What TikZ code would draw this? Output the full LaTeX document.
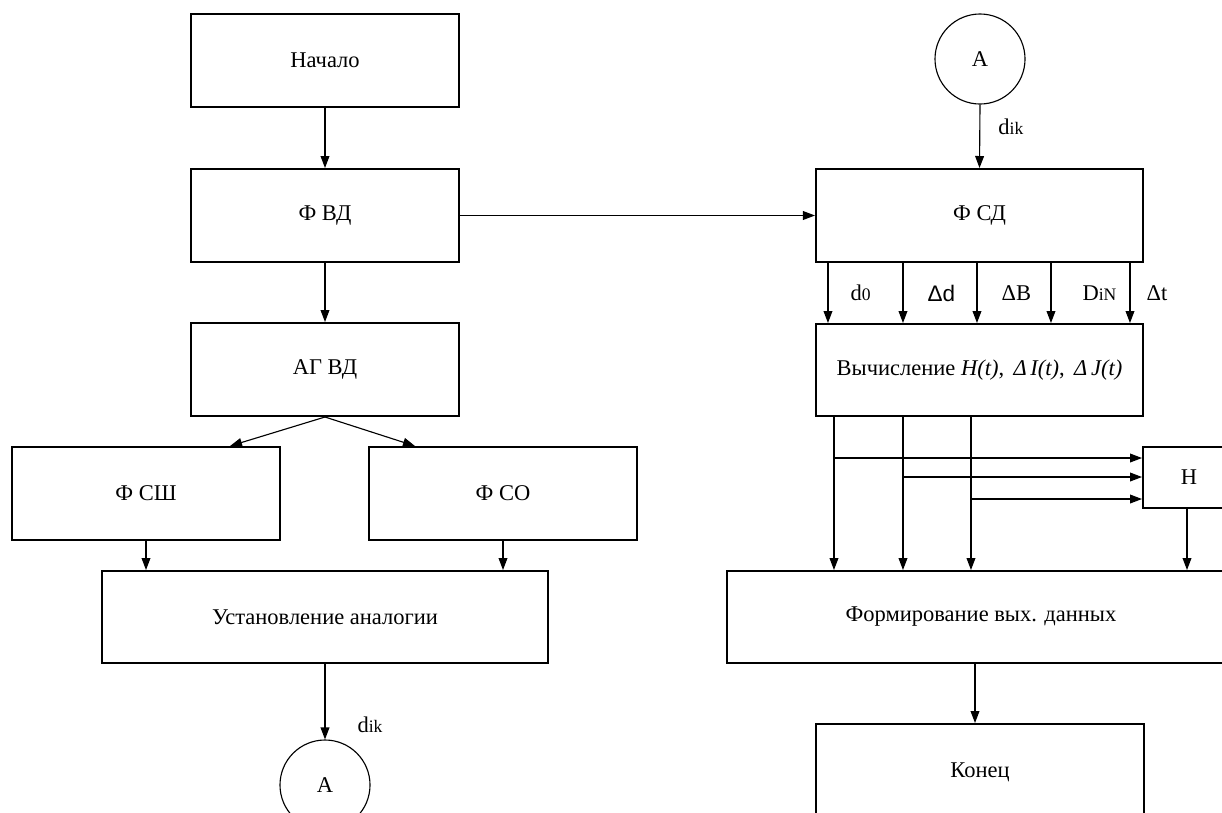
\documentclass[tikz,border=0pt]{standalone}
\usepackage{fontspec}
\setmainfont{Liberation Serif}
\newfontfamily\arialfont{Liberation Sans}
\usetikzlibrary{arrows.meta}
\newcommand{\mal}[1]{{\fontsize{12.5}{14}\selectfont #1}}

\begin{document}
\begin{tikzpicture}[x=0.025cm,y=-0.025cm,
	font=\fontsize{16}{19}\selectfont,
	box/.style={draw,line width=1.4pt,inner sep=0pt},
	krug/.style={draw,circle,line width=0.8pt,inner sep=0pt,minimum size=2.25cm},
	arr/.style={line width=0.8pt,-{Triangle[length=0.3cm,width=0.22cm]}},
	lab/.style={inner sep=0pt,anchor=west}]
	\useasboundingbox (0,0) rectangle (1222,812);
	\clip (0,0) rectangle (1222,812);
	% left column
	\node [box,minimum width=6.7cm,minimum height=2.325cm] (nach) at (325,60.5) {Начало};
	\node [box,minimum width=6.7cm,minimum height=2.325cm] (fvd) at (325,215.5) {Ф ВД};
	\node [box,minimum width=6.7cm,minimum height=2.325cm] (agvd) at (325,369.5) {АГ ВД};
	\node [box,minimum width=6.7cm,minimum height=2.325cm] (fssh) at (146,493.5) {Ф СШ};
	\node [box,minimum width=6.7cm,minimum height=2.325cm] (fso) at (503,493.5) {Ф СО};
	\node [box,minimum width=11.15cm,minimum height=2.3cm] (anal) at (325,617) {Установление аналогии};
	\node [krug] (aniz) at (325,785) {А};
	\draw [arr] (nach) -- (fvd);
	\draw [arr] (fvd) -- (agvd);
	\draw [arr] (agvd.south) -- ([xshift=2.1cm]fssh.north);
	\draw [arr] (agvd.south) -- ([xshift=-2.2cm]fso.north);
	\draw [arr] (fssh.south) -- (fssh.south |- anal.north);
	\draw [arr] (fso.south) -- (fso.south |- anal.north);
	\draw [arr] (anal.south) -- (aniz.north) node [lab,pos=0.8,xshift=0.8cm] {d\mal{ik}};
	% right column
	\node [krug] (averh) at (980,59) {А};
	\node [box,minimum width=8.175cm,minimum height=2.325cm] (fsd) at (979.5,215.5) {Ф СД};
	\node [box,minimum width=8.175cm,minimum height=2.3cm] (vych) at (979.5,370) {Вычисление \textit{H(t)},\, \textit{Δ\,I(t)},\, \textit{Δ\,J(t)}};
	\node [box,minimum width=2.3cm,minimum height=1.525cm] (hh) at (1189,477.5) {Н};
	\node [box,minimum width=12.7cm,minimum height=2.3cm] (form) at (981,617) {Формирование вых. данных};
	\node [box,minimum width=8.2cm,minimum height=2.4cm] (kon) at (980,772) {Конец};
	\draw [arr] (averh.south) -- (fsd.north) node [lab,pos=0.35,xshift=0.45cm] {d\mal{ik}};
	\draw [arr] (fvd.east) -- (fsd.west);
	\foreach \dx/\gap/\txt in {13/22/{d\mal{0}}, 88/24/{\arialfont Δd}, 162/24/{ΔB}, 236/31/{D\mal{iN}}, 315/16/{Δt}}
		\draw [arr] ([xshift=\dx*0.025cm]fsd.south west) -- ([xshift=\dx*0.025cm]fsd.south west |- vych.north)
			node [lab,midway,xshift=\gap*0.025cm] {\txt};
	\foreach \dx/\yy in {19/458, 88/477, 156/499} {
		\draw [arr] ([xshift=\dx*0.025cm]vych.south west) -- ([xshift=\dx*0.025cm]vych.south west |- form.north);
		\draw [arr] ([xshift=\dx*0.025cm]vych.south west |- 0,\yy) -- (hh.west |- 0,\yy);
	}
	\draw [arr] ([xshift=-0.05cm]hh.south) -- ([xshift=-0.05cm]hh.south |- form.north);
	\draw [arr] ([xshift=-0.15cm]form.south) -- ([xshift=-0.15cm]form.south |- kon.north);
\end{tikzpicture}
\end{document}
